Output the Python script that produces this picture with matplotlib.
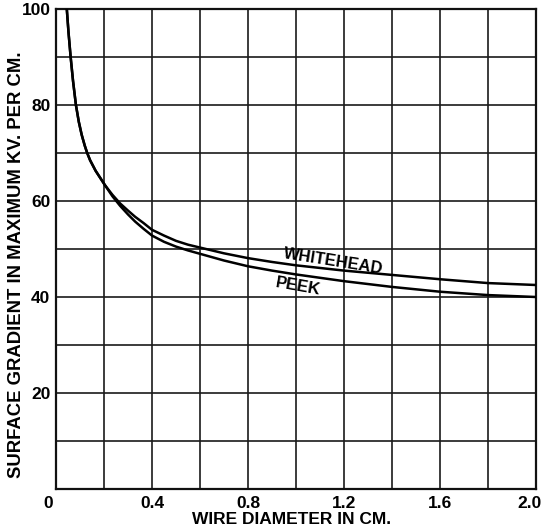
import matplotlib
matplotlib.use("Agg")
import matplotlib.pyplot as plt
import matplotlib.transforms as mtransforms

# Data
whitehead_d = [0.045, 0.052, 0.061, 0.071, 0.083, 0.095, 0.107, 0.120, 0.130, 0.142,
               0.165, 0.204, 0.235, 0.267, 0.300, 0.330, 0.365, 0.400, 0.450, 0.500,
               0.550, 0.600, 0.700, 0.800, 0.900, 1.000, 1.200, 1.400, 1.600,
               1.800, 2.000]
whitehead_g = [100.0, 95.2, 90.0, 85.0, 80.0, 76.5, 73.8, 71.5, 70.0, 68.5,
               66.3, 63.3, 61.3, 59.5, 58.0, 56.7, 55.4, 54.0, 52.8, 51.7,
               50.9, 50.3, 49.1, 48.1, 47.3, 46.6, 45.5, 44.6, 43.7,
               42.9, 42.5]
peek_d = [0.045, 0.052, 0.061, 0.071, 0.083, 0.095, 0.107, 0.120, 0.130, 0.142,
          0.165, 0.204, 0.235, 0.267, 0.300, 0.330, 0.365, 0.400, 0.450, 0.500,
          0.550, 0.600, 0.700, 0.800, 0.900, 1.000, 1.200, 1.400, 1.600,
          1.800, 2.000]
peek_g = [100.0, 95.2, 90.0, 85.0, 80.0, 76.5, 73.8, 71.5, 70.0, 68.5,
          66.3, 63.3, 61.0, 59.0, 57.2, 55.7, 54.2, 52.8, 51.5, 50.5,
          49.7, 49.0, 47.6, 46.4, 45.5, 44.7, 43.3, 42.1, 41.1,
          40.4, 40.0]

x_ticks = [0, 0.4, 0.8, 1.2, 1.6, 2.0]
x_tick_labels = ["0", "0.4", "0.8", "1.2", "1.6", "2.0"]
y_ticks = [20, 40, 60, 80, 100]
y_tick_labels = ["20", "40", "60", "80", "100"]

FONT = ["Liberation Sans", "DejaVu Sans"]
plt.rcParams["font.family"] = FONT

fig = plt.figure(figsize=(5.46, 5.30), dpi=100)
ax = fig.add_axes([56/546, 1-489/530, 480/546, 480/530])

ax.set_xlim(0, 2.0)
ax.set_ylim(0, 100)

# grid every 0.2 / 10
for gx in [0.2*i for i in range(1, 10)]:
    ax.axvline(gx, color="#1a1a1a", lw=1.2, zorder=1)
for gy in range(10, 100, 10):
    ax.axhline(gy, color="#1a1a1a", lw=1.2, zorder=1)

ax.plot(whitehead_d, whitehead_g, color="black", lw=1.8, zorder=3,
        solid_joinstyle="round")
ax.plot(peek_d, peek_g, color="black", lw=1.8, zorder=3,
        solid_joinstyle="round")

for s in ax.spines.values():
    s.set_linewidth(1.6)
    s.set_color("#111111")

ax.set_xticks(x_ticks)
ax.set_xticklabels(x_tick_labels, fontsize=12.5, fontweight="bold")
ax.set_yticks(y_ticks)
ax.set_yticklabels(y_tick_labels, fontsize=12.5, fontweight="bold")
ax.tick_params(length=0)
ax.tick_params(axis="y", pad=4)
ax.tick_params(axis="x", pad=5)

# shift the "0" and "2.0" labels slightly left
lbl0 = ax.get_xticklabels()[0]
lbl0.set_transform(lbl0.get_transform() + mtransforms.ScaledTranslation(-8/100, 0, fig.dpi_scale_trans))
lbl_last = ax.get_xticklabels()[-1]
lbl_last.set_transform(lbl_last.get_transform() + mtransforms.ScaledTranslation(-7/100, 0, fig.dpi_scale_trans))

ax.set_xlabel("WIRE DIAMETER IN CM.", fontsize=12.5, fontweight="bold",
              va="center")
ax.xaxis.set_label_coords((292 - 56) / 480, -(519 - 489) / 480)
ax.set_ylabel("SURFACE GRADIENT IN MAXIMUM KV. PER CM.", fontsize=13.3,
              fontweight="bold", va="center")
ax.yaxis.set_label_coords(-(56 - 17) / 480, (489 - 265) / 480)

ax.text(1.155, 47.4, "WHITEHEAD", fontsize=12, fontweight="bold", rotation=-9,
        ha="center", va="center", zorder=4)
ax.text(1.01, 42.2, "PEEK", fontsize=12, fontweight="bold", rotation=-10,
        ha="center", va="center", zorder=4)

fig.savefig("out.png", dpi=100)
